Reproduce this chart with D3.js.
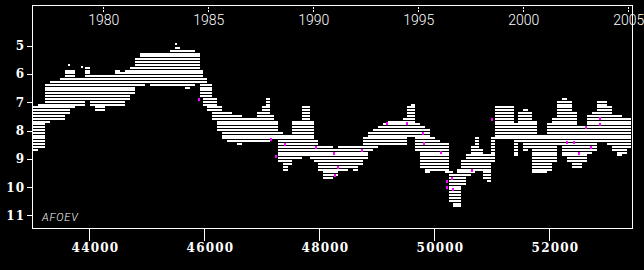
<!DOCTYPE html>
<html>
<head>
<meta charset="utf-8">
<script src="https://cdn.jsdelivr.net/npm/d3@7"></script>
<style>
  html, body { margin: 0; padding: 0; background: #000; }
  svg { display: block; }
  .axis text { fill: #fff; }
  .axis line { stroke: #fff; }
</style>
</head>
<body>
<div id="chart"></div>
<script>
const width = 644;
const height = 270;

// light curve envelope: JD - 2400000, brightest / faintest visual mag
const obsJD = [
  43030, 43110, 43240, 43320, 43410, 43500, 43580, 43670, 43760, 43840,
  43930, 44020, 44100, 44190, 44280, 44370, 44450, 44540, 44630, 44710,
  44800, 44890, 44970, 45060, 45150, 45240, 45320, 45410, 45500, 45580,
  45670, 45760, 45840, 45930, 45980, 46050, 46140, 46230, 46310, 46400,
  46490, 46570, 46660, 46750, 46840, 46920, 47010, 47080, 47150, 47220,
  47290, 47370, 47460, 47530, 47620, 47700, 47770, 47840, 47910, 47980,
  48070, 48160, 48240, 48330, 48420, 48500, 48590, 48680, 48770, 48850,
  48940, 49030, 49110, 49200, 49290, 49370, 49460, 49530, 49600, 49670,
  49760, 49840, 49930, 50020, 50100, 50190, 50260, 50330, 50400, 50470,
  50560, 50640, 50710, 50780, 50850, 50920, 50990, 51060, 51150, 51240,
  51320, 51390, 51460, 51550, 51640, 51700, 51790, 51880, 51970, 52050,
  52140, 52230, 52310, 52400, 52490, 52570, 52660, 52750, 52840, 52920,
  53010, 53100, 53180, 53270, 53360, 53430
];
const brightMag = [
  7.22, 7.12, 6.41, 6.31, 6.31, 6.24, 5.95, 5.88, 6.24, 6.24,
  5.81, 6.06, 6.06, 6.06, 6.09, 6.09, 5.95, 5.99, 5.95, 5.81,
  5.53, 5.32, 5.32, 5.35, 5.35, 5.28, 5.32, 5.25, 5.11, 5.25,
  5.25, 5.25, 5.28, 5.95, 6.16, 6.41, 6.87, 7.22, 7.36, 7.44,
  7.47, 7.54, 7.58, 7.58, 7.58, 7.44, 7.22, 6.87, 7.47, 7.72,
  8.11, 8.25, 8.18, 7.75, 7.65, 7.22, 7.19, 7.75, 8.42, 8.57,
  8.64, 8.64, 8.71, 8.60, 8.64, 8.60, 8.64, 8.60, 8.35, 8.11,
  8.00, 7.93, 7.82, 7.75, 7.72, 7.75, 7.58, 7.15, 7.12, 7.82,
  7.93, 8.00, 8.35, 8.42, 8.46, 8.53, 9.48, 9.59, 9.41, 9.06,
  8.88, 8.64, 8.28, 8.71, 8.88, 8.88, 8.35, 7.22, 7.22, 7.15,
  7.15, 7.82, 7.36, 7.29, 7.36, 7.65, 8.18, 8.18, 7.82, 7.58,
  7.01, 6.94, 7.01, 7.36, 7.89, 7.89, 7.47, 7.36, 7.05, 7.05,
  7.22, 7.47, 7.54, 7.58, 7.58, 7.65
];
const faintMag = [
  8.71, 8.64, 7.65, 7.58, 7.58, 7.58, 7.36, 7.22, 7.12, 7.05,
  6.94, 7.12, 7.29, 7.29, 7.08, 7.05, 7.05, 7.05, 6.94, 6.66,
  6.41, 6.38, 6.34, 6.38, 6.38, 6.38, 6.38, 6.38, 6.41, 6.38,
  6.45, 6.38, 6.31, 6.76, 7.12, 7.29, 7.58, 8.00, 8.28, 8.35,
  8.42, 8.46, 8.42, 8.42, 8.42, 8.42, 8.35, 8.35, 8.28, 8.28,
  9.06, 9.41, 9.24, 8.99, 8.95, 8.88, 8.88, 8.99, 9.06, 9.41,
  9.69, 9.69, 9.59, 9.41, 9.41, 9.34, 9.41, 9.24, 8.99, 8.71,
  8.57, 8.53, 8.49, 8.49, 8.46, 8.46, 8.46, 8.18, 8.18, 8.71,
  9.34, 9.48, 9.41, 9.41, 9.41, 9.48, 10.47, 10.72, 10.65, 9.94,
  9.59, 9.48, 9.41, 9.41, 9.69, 9.77, 9.06, 8.28, 8.25, 8.25,
  8.28, 8.88, 8.35, 8.71, 8.64, 9.52, 9.52, 9.48, 9.41, 9.06,
  8.53, 8.88, 9.06, 9.31, 9.31, 9.06, 8.78, 8.71, 8.35, 8.35,
  8.53, 8.71, 8.88, 8.78, 8.64, 8.53
];

// stray single estimates outside the band
const strayJD = [45513, 43878, 45530, 43650];
const strayMag = [4.97, 5.78, 5.20, 5.70];

// magenta marked estimates
const markJD = [
  45913, 47165, 47410, 47252, 47948, 48278, 48330, 48261, 48748, 49183,
  49530, 49809, 49826, 50122, 51009, 50661, 50313, 50330, 52887, 52887,
  52643, 52313, 52435, 52522, 52730, 50235, 50230
];
const markMag = [
  6.90, 8.32, 8.49, 8.92, 8.60, 9.59, 9.31, 8.81, 8.71, 7.75,
  7.75, 8.11, 8.46, 8.78, 7.61, 9.41, 9.69, 10.08, 7.58, 7.80,
  7.89, 8.42, 8.42, 8.81, 8.60, 9.80, 10.00
];

const jdTicks = [44000, 46000, 48000, 50000, 52000];
const magTicks = [5, 6, 7, 8, 9, 10, 11];
const yearTicks = [1980, 1985, 1990, 1995, 2000, 2005];

const frame = {left: 32, right: 632, top: 5, bottom: 228};

const jdToYear = jd => 1980 + (jd - 44239.5) / 365.25;

const x = d3.scaleLinear()
  .domain([43009, 53444])
  .range([frame.left, frame.right]);

const y = d3.scaleLinear()
  .domain([3.588, 11.459])
  .range([frame.top, frame.bottom]);

const xYear = d3.scaleLinear()
  .domain(x.domain().map(jdToYear))
  .range(x.range());

const svg = d3.select('#chart').append('svg')
  .attr('width', width)
  .attr('height', height)
  .style('background', '#000');

// one stripe per 0.1 mag row, cut to the envelope of each interval
const rows = d3.range(36, 116).map(k => k / 10);
const spans = obsJD.slice(0, -1).map((jd, i) => ({
  x0: jd, x1: obsJD[i + 1], lo: brightMag[i], hi: faintMag[i]
}));

const stripes = svg.append('g').attr('shape-rendering', 'crispEdges');

stripes.selectAll('g')
  .data(rows)
  .join('g')
  .each(function (m) {
    d3.select(this).selectAll('rect')
      .data(spans.filter(s => s.lo <= m + 0.05 && s.hi >= m - 0.05))
      .join('rect')
      .attr('x', s => Math.round(x(s.x0)))
      .attr('width', s => Math.round(x(s.x1)) - Math.round(x(s.x0)))
      .attr('y', Math.round(y(m)) - 1)
      .attr('height', 2)
      .attr('fill', '#fff');
  });

stripes.selectAll('.stray')
  .data(strayJD.map((jd, i) => [jd, strayMag[i]]))
  .join('rect')
  .attr('class', 'stray')
  .attr('x', d => Math.round(x(d[0])) - 1)
  .attr('y', d => Math.round(y(d[1])) - 1)
  .attr('width', 2)
  .attr('height', 2)
  .attr('fill', '#fff');

stripes.selectAll('.mark')
  .data(markJD.map((jd, i) => [jd, markMag[i]]))
  .join('rect')
  .attr('class', 'mark')
  .attr('x', d => Math.round(x(d[0])) - 1)
  .attr('y', d => Math.round(y(d[1])) - 1)
  .attr('width', 2)
  .attr('height', 3)
  .attr('fill', '#ff00ff');

// frame
svg.append('rect')
  .attr('x', frame.left + 0.5)
  .attr('y', frame.top + 0.5)
  .attr('width', frame.right - frame.left)
  .attr('height', frame.bottom - frame.top)
  .attr('fill', 'none')
  .attr('stroke', '#fff')
  .attr('shape-rendering', 'crispEdges');

// bottom JD axis
const bottomAxis = svg.append('g')
  .attr('class', 'axis')
  .attr('transform', `translate(0.5,${frame.bottom})`)
  .attr('shape-rendering', 'crispEdges')
  .call(d3.axisBottom(x).tickValues(jdTicks).tickSize(13).tickFormat(d3.format('d')));
bottomAxis.select('.domain').remove();
bottomAxis.selectAll('text')
  .attr('x', 5.5)
  .attr('y', 24)
  .attr('dy', 0)
  .style('font-family', '"DejaVu Serif", serif')
  .style('font-weight', 'bold')
  .style('font-size', '12px')
  .style('letter-spacing', '1.2px');

// left magnitude axis
const leftAxis = svg.append('g')
  .attr('class', 'axis')
  .attr('transform', `translate(${frame.left},0.5)`)
  .attr('shape-rendering', 'crispEdges')
  .call(d3.axisLeft(y).tickValues(magTicks).tickSize(5).tickPadding(2).tickFormat(d3.format('d')));
leftAxis.select('.domain').remove();
leftAxis.selectAll('text')
  .style('font-family', '"DejaVu Serif", serif')
  .style('font-weight', 'bold')
  .style('font-size', '12px')
  .style('letter-spacing', '1px');

// top year axis, dotted ticks inside the frame
const topAxis = svg.append('g')
  .attr('class', 'axis')
  .attr('transform', `translate(0.5,${frame.top})`)
  .attr('shape-rendering', 'crispEdges')
  .call(d3.axisBottom(xYear).tickValues(yearTicks).tickSize(7).tickFormat(d3.format('d')));
topAxis.select('.domain').remove();
topAxis.selectAll('line')
  .attr('y1', 2)
  .attr('y2', 7)
  .attr('stroke-dasharray', '2,1');
topAxis.selectAll('text')
  .attr('y', 20)
  .attr('dy', 0)
  .style('font-family', 'Roboto, sans-serif')
  .style('font-weight', 300)
  .style('font-size', '14px');

svg.append('text')
  .attr('x', 42)
  .attr('y', 221)
  .attr('fill', '#fff')
  .style('font-family', 'Roboto, sans-serif')
  .style('font-weight', 300)
  .style('font-style', 'italic')
  .style('font-size', '11px')
  .style('letter-spacing', '0.8px')
  .text('AFOEV');
</script>
</body>
</html>
